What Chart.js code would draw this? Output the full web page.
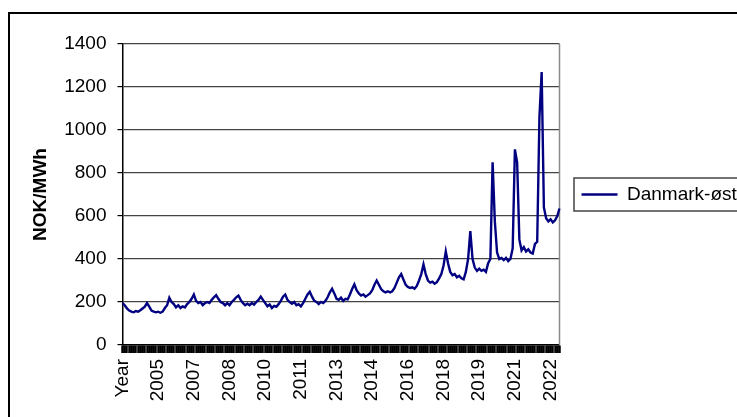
<!DOCTYPE html>
<html>
<head>
<meta charset="utf-8">
<title>Danmark-øst</title>
<script src="https://cdn.jsdelivr.net/npm/chart.js@4.4.1/dist/chart.umd.min.js"></script>
<style>
  html, body { margin: 0; padding: 0; background: #fff; width: 737px; height: 417px; overflow: hidden; }
  #frame { position: absolute; left: 8px; top: 12px; width: 800px; height: 500px; border: 2px solid #000; box-sizing: border-box; }
  #c { position: absolute; left: 0; top: 0; }
</style>
</head>
<body>
<div id="frame"></div>
<canvas id="c" width="760" height="430"></canvas>
<script>
// Year labels shown along the category axis, one every `labelEvery` periods
const tickYears = ['Year', '2005', '2007', '2008', '2010', '2011', '2013', '2014', '2016', '2018', '2019', '2021', '2022'];
const labelEvery = 16;

// Price series, NOK/MWh
const seriesName = 'Danmark-øst';
const prices = [
  195, 185, 170, 160, 155, 152, 158, 155, 162, 170, 178, 195, 178, 160, 155, 152,
  155, 150, 155, 172, 185, 220, 200, 190, 175, 185, 172, 180, 175, 190, 200, 215,
  235, 205, 195, 200, 185, 195, 200, 195, 210, 222, 232, 215, 200, 195, 185, 195,
  185, 200, 210, 222, 230, 210, 195, 185, 192, 185, 195, 188, 200, 210, 225, 210,
  195, 180, 188, 172, 182, 178, 190, 205, 225, 235, 210, 200, 192, 200, 185, 190,
  180, 195, 215, 235, 248, 225, 205, 200, 190, 200, 195, 205, 222, 245, 262, 240,
  215, 210, 220, 205, 215, 212, 235, 260, 282, 255, 240, 230, 235, 225, 232, 240,
  255, 280, 300, 280, 260, 250, 245, 250, 245, 250, 265, 290, 315, 330, 305, 280,
  270, 265, 268, 262, 275, 300, 330, 375, 330, 300, 290, 295, 285, 292, 310, 330,
  370, 435, 380, 340, 325, 330, 315, 322, 310, 305, 340, 400, 530, 400, 360, 345,
  355, 345, 350, 340, 380, 400, 850, 575, 430, 400, 405, 395, 405, 390, 400, 450,
  910, 850, 490, 440, 455, 435, 445, 430, 425, 470, 480, 1060, 1270, 640, 590, 575,
  585, 570, 580, 600, 635
];

// Y axis range
const yMin = 0, yMax = 1400, yStep = 200;

const categories = prices.map((_, i) => (i % labelEvery === 0 ? (tickYears[i / labelEvery] || '') : ''));

const FONT = 'Liberation Sans, Arial, Helvetica, sans-serif';

// Right-hand edge of the plot area
const plotEdge = {
  id: 'plotEdge',
  beforeDatasetsDraw(chart) {
    const { ctx, chartArea: a } = chart;
    ctx.save();
    ctx.strokeStyle = '#8a8a8a';
    ctx.lineWidth = 1.5;
    ctx.beginPath();
    ctx.moveTo(a.right, a.top);
    ctx.lineTo(a.right, a.bottom);
    ctx.stroke();
    ctx.restore();
  }
};

// Box drawn around the legend entry
const legendBox = {
  id: 'legendBox',
  afterDraw(chart) {
    const hb = chart.legend && chart.legend.legendHitBoxes && chart.legend.legendHitBoxes[0];
    if (!hb) return;
    const { ctx } = chart;
    ctx.save();
    ctx.strokeStyle = '#444';
    ctx.lineWidth = 1.5;
    ctx.strokeRect(hb.left - 7.5, hb.top - 7, 400, hb.height + 14);
    ctx.restore();
  }
};

new Chart(document.getElementById('c'), {
  type: 'line',
  data: {
    labels: categories,
    datasets: [{
      label: seriesName,
      data: prices,
      borderColor: '#000080',
      backgroundColor: '#000080',
      borderWidth: 2.4,
      pointRadius: 0,
      tension: 0,
      fill: false
    }]
  },
  options: {
    responsive: false,
    animation: false,
    devicePixelRatio: 1,
    layout: { padding: { left: 0, top: 44, right: 14, bottom: 0 } },
    plugins: {
      tooltip: { enabled: false },
      legend: {
        position: 'right',
        fullSize: false,
        align: 'center',
        labels: {
          usePointStyle: true,
          pointStyle: 'line',
          pointStyleWidth: 36,
          padding: 22,
          color: '#000',
          font: { family: FONT, size: 19 }
        }
      }
    },
    scales: {
      x: {
        type: 'category',
        offset: false,
        afterFit(scale) { scale.height = 85; },
        grid: {
          drawOnChartArea: false,
          drawTicks: true,
          tickLength: 8,
          tickWidth: 2.5,
          tickColor: '#000'
        },
        border: { color: '#000', width: 1.5 },
        ticks: {
          autoSkip: false,
          minRotation: 90,
          maxRotation: 90,
          padding: 6,
          color: '#000',
          font: { family: FONT, size: 19 }
        }
      },
      y: {
        min: yMin,
        max: yMax,
        afterFit(scale) { scale.width = 122.5; },
        ticks: {
          stepSize: yStep,
          padding: 11,
          color: '#000',
          font: { family: FONT, size: 19 },
          callback: (v) => String(v)
        },
        grid: {
          color: '#444',
          lineWidth: 1.2,
          tickLength: 5,
          tickColor: '#000'
        },
        border: { color: '#000', width: 1.5 },
        title: {
          display: true,
          text: 'NOK/MWh',
          color: '#000',
          font: { family: FONT, size: 19, weight: 'bold' },
          padding: { top: 29, bottom: 0 }
        }
      }
    }
  },
  plugins: [plotEdge, legendBox]
});
</script>
</body>
</html>
